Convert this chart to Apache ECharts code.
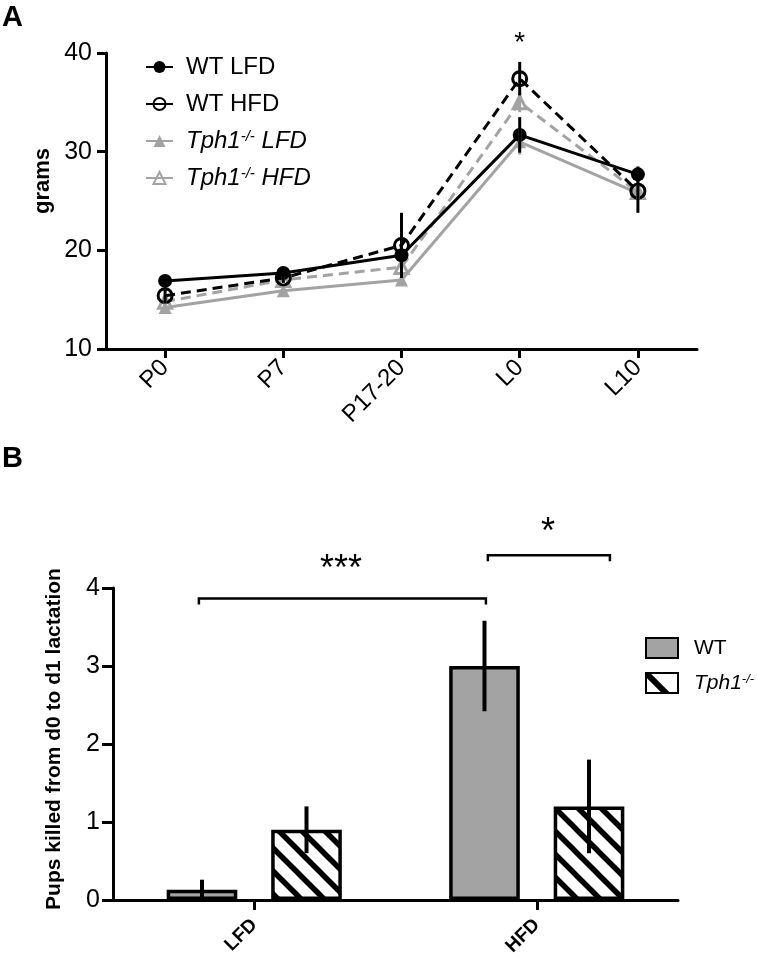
<!DOCTYPE html>
<html><head><meta charset="utf-8">
<script src="https://cdn.jsdelivr.net/npm/echarts@6/dist/echarts.min.js"></script>
<style>html,body{margin:0;padding:0;background:#fff}#c{width:757px;height:960px}</style>
</head><body><div id="c"></div>
<script>
// ---------- Panel A data ----------
const timepoints = ['P0', 'P7', 'P17-20', 'L0', 'L10'];
const wtLfd     = [16.9, 17.7, 19.5, 31.7, 27.7];
const wtLfdErr  = [0.5, 0.4, 1.0, 1.8, 0.8];
const wtHfd     = [15.4, 17.2, 20.5, 37.4, 26.0];
const wtHfdErr  = [0.8, 0.5, 3.3, 1.7, 2.2];
const tphLfd    = [14.2, 15.9, 17.0, 31.0, 25.8];
const tphLfdErr = [0.5, 0.4, 0.5, 1.3, 0.6];
const tphHfd    = [14.8, 17.0, 18.3, 35.0, 25.9];
const tphHfdErr = [0.6, 0.4, 0.8, 1.0, 0.7];
const gramsTicks = [10, 20, 30, 40];

// ---------- Panel B data ----------
const diets = ['LFD', 'HFD'];
const wtKilled     = [0.13, 3.0];
const wtKilledErr  = [0.13, 0.58];
const tphKilled    = [0.9, 1.2];
const tphKilledErr = [0.3, 0.6];
const killedTicks = [0, 1, 2, 3, 4];

// significance annotations (category-index / value space)
const sigA = [{ cat: 3, y: 41.6, text: '*' }];
const sigBrackets = [
  { x1: -0.196, x2: 0.82, y: 3.865, tx: 0.307, ty: 4.33, text: '***' },
  { x1: 0.827, x2: 1.259, y: 4.42, tx: 1.04, ty: 4.81, text: '*' }
];

const FONT = '"Liberation Sans", Arial, Helvetica, sans-serif';
const GREY = '#a3a3a3';

function makeHatch(s, w) {
  const c = document.createElement('canvas');
  c.width = s; c.height = s;
  const g = c.getContext('2d');
  g.fillStyle = '#fff'; g.fillRect(0, 0, s, s);
  g.strokeStyle = '#000'; g.lineWidth = w; g.lineCap = 'square';
  for (let k = -1; k <= 1; k++) {
    g.beginPath(); g.moveTo(k * s - s, -s); g.lineTo(k * s + 2 * s, 2 * s); g.stroke();
  }
  return c;
}
const hatch = makeHatch(23, 5.5);
const hatchLegend = makeHatch(40, 6);

function errSeries(id, vals, errs, color, gi, offsetFrac, lw) {
  return {
    type: 'custom', id: id, name: id, xAxisIndex: gi, yAxisIndex: gi, z: 6, silent: true,
    data: vals.map((v, i) => [i, v, errs[i]]),
    renderItem: function (params, api) {
      const i = api.value(0), v = api.value(1), e = api.value(2);
      const top = api.coord([i, v + e]);
      const bot = api.coord([i, v - e]);
      const dx = (offsetFrac || 0) * api.size([1, 0])[0];
      return {
        type: 'line',
        shape: { x1: top[0] + dx, y1: top[1], x2: top[0] + dx, y2: bot[1] },
        style: { stroke: color, lineWidth: lw || 3 }
      };
    }
  };
}

function axisCommon(labelSize, tickLen) {
  return {
    axisLine: { show: true, lineStyle: { color: '#000', width: 3 } },
    axisTick: { show: true, inside: false, length: tickLen, lineStyle: { color: '#000', width: 3 } },
    splitLine: { show: false },
    axisLabel: { color: '#000', fontSize: labelSize, fontFamily: FONT }
  };
}

function richName(name) {
  if (name.indexOf('-/-') >= 0) {
    const parts = name.split('-/-');
    return '{i|' + parts[0] + '}{s|-/-}' + (parts[1] ? '{i|' + parts[1] + '}' : '');
  }
  return name;
}

const chart = echarts.init(document.getElementById('c'), null, { renderer: 'canvas' });

const yA = axisCommon(25, 9);
yA.axisLabel.margin = 14;
const xA = axisCommon(24, 9);
xA.axisTick.alignWithLabel = true;
Object.assign(xA.axisLabel, { rotate: 45, margin: 15, interval: 0 });
const yB = axisCommon(25, 11);
yB.axisLabel.margin = 13;
const xB = axisCommon(19, 10);
xB.axisTick.alignWithLabel = true;
Object.assign(xB.axisLabel, { rotate: 45, margin: 22, interval: 0, fontWeight: 'bold' });

const option = {
  animation: false,
  backgroundColor: '#fff',
  textStyle: { fontFamily: FONT },
  grid: [
    { left: 106, top: 53, width: 591, height: 296, containLabel: false },
    { left: 113, top: 588, width: 565, height: 312, containLabel: false }
  ],
  xAxis: [
    Object.assign({ type: 'category', gridIndex: 0, data: timepoints, boundaryGap: true }, xA),
    Object.assign({ type: 'category', gridIndex: 1, data: diets, boundaryGap: true }, xB)
  ],
  yAxis: [
    Object.assign({ type: 'value', gridIndex: 0, min: gramsTicks[0], max: gramsTicks[gramsTicks.length - 1], interval: 10 }, yA),
    Object.assign({ type: 'value', gridIndex: 1, min: killedTicks[0], max: killedTicks[killedTicks.length - 1], interval: 1 }, yB)
  ],
  legend: [
    {
      show: true, orient: 'vertical', left: 140, top: 50, itemWidth: 27, itemHeight: 15, itemGap: 13,
      selectedMode: false,
      data: [
        { name: 'WT LFD' },
        { name: 'WT HFD', lineStyle: { type: 'solid' } },
        { name: 'Tph1-/- LFD' },
        { name: 'Tph1-/- HFD', lineStyle: { type: 'solid' } }
      ],
      formatter: richName,
      textStyle: {
        color: '#000', fontSize: 24, fontFamily: FONT, lineHeight: 24, padding: [0, 0, 0, 8],
        rich: {
          i: { fontStyle: 'italic', fontSize: 24, fontFamily: FONT, color: '#000', lineHeight: 24 },
          s: { fontStyle: 'italic', fontSize: 15, fontFamily: FONT, color: '#000', lineHeight: 15, verticalAlign: 'top' }
        }
      }
    },
    {
      show: true, orient: 'vertical', left: 640, top: 632, itemWidth: 32, itemHeight: 20, itemGap: 13,
      selectedMode: false, icon: 'rect',
      data: [
        { name: 'WT' },
        { name: 'Tph1-/-', itemStyle: { color: { image: hatchLegend, repeat: 'repeat' } } }
      ],
      formatter: richName,
      textStyle: {
        color: '#000', fontSize: 21, fontFamily: FONT, lineHeight: 21, padding: [0, 0, 0, 11],
        rich: {
          i: { fontStyle: 'italic', fontSize: 21, fontFamily: FONT, color: '#000', lineHeight: 21 },
          s: { fontStyle: 'italic', fontSize: 13, fontFamily: FONT, color: '#000', lineHeight: 13, verticalAlign: 'top' }
        }
      }
    }
  ],
  series: [
    {
      type: 'line', name: 'Tph1-/- LFD', data: tphLfd, xAxisIndex: 0, yAxisIndex: 0, z: 2,
      symbol: 'triangle', symbolSize: 13, showAllSymbol: true,
      lineStyle: { color: GREY, width: 3 }, itemStyle: { color: GREY }
    },
    {
      type: 'line', name: 'Tph1-/- HFD', data: tphHfd, xAxisIndex: 0, yAxisIndex: 0, z: 2,
      symbol: 'triangle', symbolSize: 13, showAllSymbol: true,
      lineStyle: { color: GREY, width: 3, type: [10, 6] },
      itemStyle: { color: 'rgba(255,255,255,0)', borderColor: GREY, borderWidth: 3 }
    },
    {
      type: 'line', name: 'WT LFD', data: wtLfd, xAxisIndex: 0, yAxisIndex: 0, z: 3,
      symbol: 'circle', symbolSize: 14, showAllSymbol: true,
      lineStyle: { color: '#000', width: 3 }, itemStyle: { color: '#000' }
    },
    {
      type: 'line', name: 'WT HFD', data: wtHfd, xAxisIndex: 0, yAxisIndex: 0, z: 3,
      symbol: 'circle', symbolSize: 14, showAllSymbol: true,
      lineStyle: { color: '#000', width: 3, type: [10, 6] },
      itemStyle: { color: 'rgba(255,255,255,0)', borderColor: '#000', borderWidth: 3 }
    },
    errSeries('e-tl', tphLfd, tphLfdErr, GREY, 0, 0, 3),
    errSeries('e-th', tphHfd, tphHfdErr, GREY, 0, 0, 3),
    errSeries('e-wl', wtLfd, wtLfdErr, '#000', 0, 0, 3),
    errSeries('e-wh', wtHfd, wtHfdErr, '#000', 0, 0, 3),
    {
      type: 'bar', name: 'WT', data: wtKilled, xAxisIndex: 1, yAxisIndex: 1,
      barWidth: '25%', barGap: '48%',
      itemStyle: { color: GREY, borderColor: '#000', borderWidth: 3.5 }
    },
    {
      type: 'bar', name: 'Tph1-/-', data: tphKilled, xAxisIndex: 1, yAxisIndex: 1,
      barWidth: '25%', barGap: '48%',
      itemStyle: { color: { image: hatch, repeat: 'repeat' }, borderColor: '#000', borderWidth: 3.5 }
    },
    errSeries('e-bw', wtKilled, wtKilledErr, '#000', 1, -0.185, 4),
    errSeries('e-bt', tphKilled, tphKilledErr, '#000', 1, 0.185, 4)
  ]
};
chart.setOption(option);

// annotations positioned through the coordinate systems
const gfx = [];
function txt(x, y, text, size, weight, rot) {
  return {
    type: 'text', x: x, y: y, rotation: rot || 0, silent: true,
    style: {
      text: text, fontSize: size, fontFamily: FONT, fontWeight: weight || 'normal', fill: '#000',
      align: 'center', verticalAlign: 'middle', textAlign: 'center', textVerticalAlign: 'middle'
    }
  };
}
gfx.push({ type: 'text', x: 2, y: 3, silent: true, style: { text: 'A', fontSize: 29, fontWeight: 'bold', fontFamily: FONT, fill: '#000' } });
gfx.push({ type: 'text', x: 2, y: 444, silent: true, style: { text: 'B', fontSize: 29, fontWeight: 'bold', fontFamily: FONT, fill: '#000' } });
gfx.push(txt(43, 181, 'grams', 22, 'bold', Math.PI / 2));
gfx.push(txt(54, 739, 'Pups killed from d0 to d1 lactation', 21, 'bold', Math.PI / 2));

sigA.forEach(function (s) {
  const p = chart.convertToPixel({ gridIndex: 0 }, [s.cat, s.y]);
  gfx.push(txt(p[0], p[1] + 6, s.text, 28, 'normal'));
});
const c0 = chart.convertToPixel({ gridIndex: 1 }, [0, 0]);
const c1 = chart.convertToPixel({ gridIndex: 1 }, [1, 0]);
const band = c1[0] - c0[0];
function bx(idx) { return c0[0] + idx * band; }
function by(v) { return chart.convertToPixel({ gridIndex: 1 }, [0, v])[1]; }
sigBrackets.forEach(function (b) {
  const y = by(b.y);
  gfx.push({
    type: 'polyline', silent: true,
    shape: { points: [[bx(b.x1), y + 6], [bx(b.x1), y], [bx(b.x2), y], [bx(b.x2), y + 6]] },
    style: { stroke: '#000', lineWidth: 2.5, fill: null }
  });
  gfx.push(txt(bx(b.tx), by(b.ty) + 8, b.text, 36, 'normal'));
});
chart.setOption({ graphic: { elements: gfx } });
</script>
</body></html>
